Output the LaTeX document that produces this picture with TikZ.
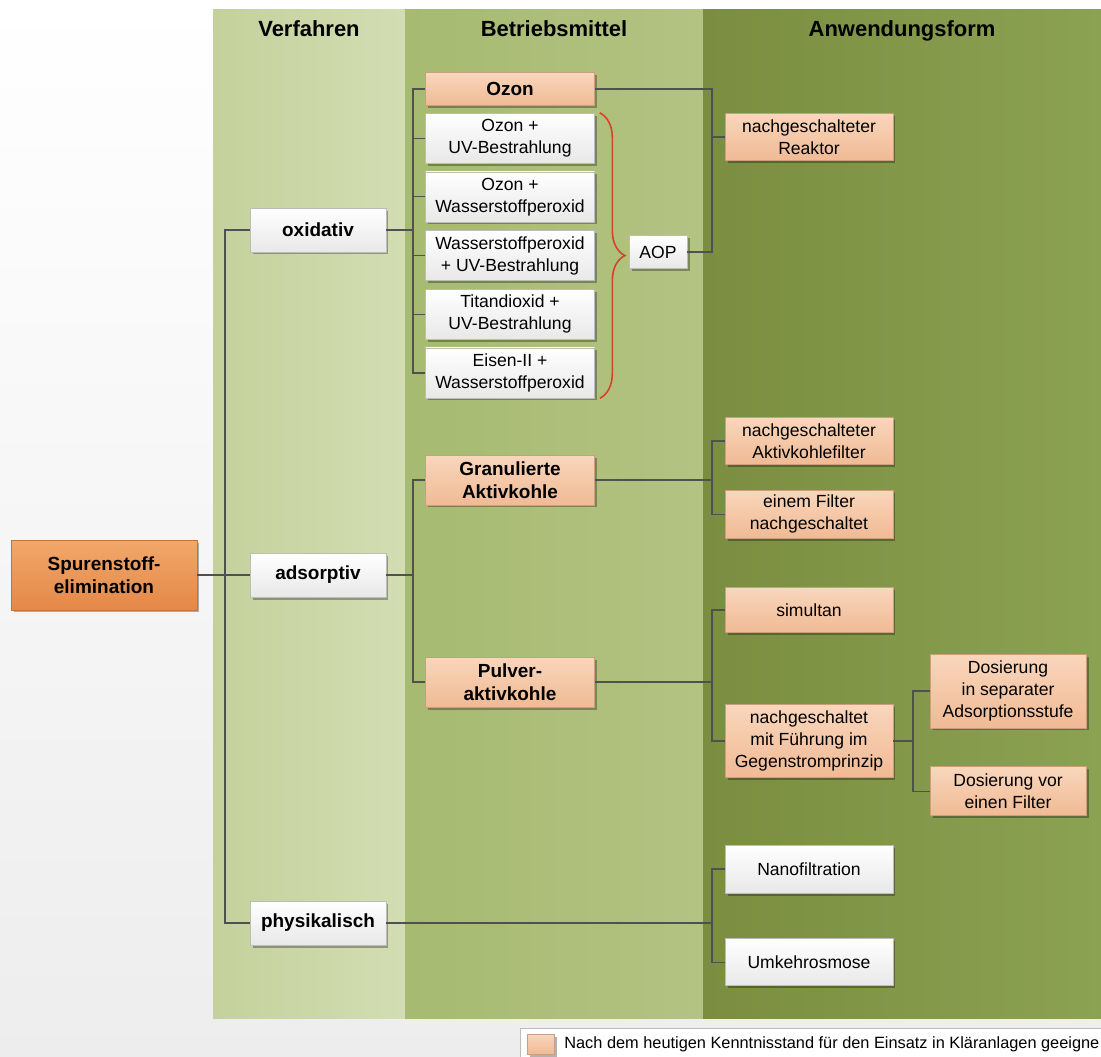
\documentclass[tikz,border=0pt]{standalone}
\usepackage{fontspec}
\setmainfont{Liberation Sans}
\usetikzlibrary{positioning, shadows, decorations.pathreplacing}
\definecolor{lineGray}{RGB}{80, 80, 80}
\definecolor{boxBorder}{RGB}{188, 188, 188}
\definecolor{colOneL}{RGB}{196, 209, 156}
\definecolor{colOneR}{RGB}{211, 221, 179}
\definecolor{colTwoL}{RGB}{166, 186, 112}
\definecolor{colTwoR}{RGB}{179, 195, 131}
\definecolor{colThreeL}{RGB}{122, 141, 64}
\definecolor{colThreeR}{RGB}{140, 162, 83}
\definecolor{peachTop}{RGB}{249, 214, 188}
\definecolor{peachBot}{RGB}{240, 186, 148}
\definecolor{orangeTop}{RGB}{241, 168, 106}
\definecolor{orangeBot}{RGB}{228, 136, 72}
\definecolor{braceRed}{RGB}{214, 66, 40}

\begin{document}
\begin{tikzpicture}[
    x=0.02cm, y=-0.02cm,
    box/.style={rectangle, draw=boxBorder, line width=0.4pt, align=center, inner sep=1pt, font=\fontsize{10}{12.5}\selectfont, drop shadow={shadow xshift=0.05cm, shadow yshift=-0.05cm, opacity=0.3, fill=black}},
    wbox/.style={box, top color=white, bottom color=black!9},
    obox/.style={box, top color=peachTop, bottom color=peachBot, draw=peachBot!85!black},
    bold/.style={font=\fontsize{10.8}{13}\selectfont\bfseries},
    mainbox/.style={box, bold, top color=orangeTop, bottom color=orangeBot, draw=orangeBot!85!black, minimum width=3.72cm, minimum height=1.4cm},
    verfbox/.style={wbox, bold, minimum width=2.72cm, minimum height=0.88cm},
    mittel/.style={minimum width=3.38cm, minimum height=1cm},
    anwend/.style={minimum width=3.36cm},
    dosbox/.style={obox, minimum width=3.12cm},
    colhead/.style={anchor=base, font=\fontsize{12.5}{15}\selectfont\bfseries},
    conn/.style={draw=lineGray, line width=0.7pt},
    aopbrace/.style={draw=braceRed, line width=0.9pt, decorate, decoration={brace, amplitude=0.5cm}}
]

\useasboundingbox (0,0) rectangle (1101,1057);
\clip (0,0) rectangle (1101,1057);

% background and columns
\fill[top color=white, bottom color=black!7] (0,0) rectangle (1101,1057);
\fill[left color=colOneL, right color=colOneR] (213,10) rectangle (405,1018);
\fill[left color=colTwoL, right color=colTwoR] (405,10) rectangle (703,1018);
\fill[left color=colThreeL, right color=colThreeR] (703,10) rectangle (1101,1018);

\node[colhead] (hverf) at (309,37) {Verfahren};
\node[colhead] (hmittel) at (554,37) {Betriebsmittel};
\node[colhead] (hanw) at (902,37) {Anwendungsform};

% Verfahren
\node[mainbox] (spur) at (104,575) {Spurenstoff-\\elimination};
\node[verfbox] (oxi) at (318,230) {oxidativ};
\node[verfbox] (ads) at (318,575) {adsorptiv};
\node[verfbox] (phys) at (318,923) {physikalisch};

% Betriebsmittel
\node[obox, bold, mittel, minimum height=0.66cm] (ozon) at (510,89) {Ozon};
\node[wbox, mittel, below=0.14cm of ozon] (ozonuv) {Ozon +\\UV-Bestrahlung};
\node[wbox, mittel, below=0.16cm of ozonuv] (ozonhp) {Ozon +\\Wasserstoffperoxid};
\node[wbox, mittel, below=0.16cm of ozonhp] (hpuv) {Wasserstoffperoxid\\+ UV-Bestrahlung};
\node[wbox, mittel, below=0.16cm of hpuv] (tio) {Titandioxid +\\UV-Bestrahlung};
\node[wbox, mittel, below=0.16cm of tio] (eisen) {Eisen-II +\\Wasserstoffperoxid};
\node[wbox, minimum width=1.16cm, minimum height=0.66cm] (aop) at (658,252) {AOP};
\node[obox, bold, mittel] (gak) at (510,480) {Granulierte\\Aktivkohle};
\node[obox, bold, mittel] (pak) at (510,682) {Pulver-\\aktivkohle};

% Anwendungsform
\node[obox, anwend, minimum height=0.94cm] (reaktor) at (809,137) {nachgeschalteter\\Reaktor};
\node[obox, anwend, minimum height=0.94cm] (akf) at (809,441) {nachgeschalteter\\Aktivkohlefilter};
\node[obox, anwend, minimum height=0.96cm, below=0.5cm of akf] (einem) {einem Filter\\nachgeschaltet};
\node[obox, anwend, minimum height=0.9cm] (simul) at (809,610) {simultan};
\node[obox, anwend, minimum height=1.46cm] (nachg) at (809,741) {nachgeschaltet\\mit Führung im\\Gegenstromprinzip};
\node[dosbox, minimum height=1.48cm] (dossep) at (1008,691) {Dosierung\\in separater\\Adsorptionsstufe};
\node[dosbox, minimum height=0.98cm, below=0.76cm of dossep] (dosvor) {Dosierung vor\\einen Filter};
\node[wbox, anwend, minimum height=0.96cm] (nano) at (809,869) {Nanofiltration};
\node[wbox, anwend, minimum height=0.94cm, below=0.9cm of nano] (umkehr) {Umkehrosmose};

% connectors
\coordinate (vx) at (225,0);
\coordinate (bx) at (413,0);
\coordinate (ax) at (712,0);
\coordinate (dx) at (913,0);

\draw[conn] (spur) -- (ads);
\draw[conn] (oxi.west) -- (oxi.west -| vx) |- (phys.west);
\draw[conn] (oxi.east) -- (oxi.east -| bx);
\draw[conn] (ozon.west) -- (ozon.west -| bx) |- (eisen.west);
\foreach \n in {ozonuv, ozonhp, hpuv, tio}
  \draw[conn] (\n.west) -- (\n.west -| bx);
\draw[aopbrace] ([xshift=0.1cm]ozonuv.north east) -- ([xshift=0.1cm]eisen.south east);
\draw[conn] (ozon.east) -- (ozon.east -| ax) |- (aop.east);
\draw[conn] (reaktor.west) -- (reaktor.west -| ax);

\draw[conn] (ads.east) -- (ads.east -| bx);
\draw[conn] (gak.west) -- (gak.west -| bx) |- (pak.west);
\draw[conn] (gak.east) -- (gak.east -| ax);
\draw[conn] (akf.west) -- (akf.west -| ax) |- (einem.west);
\draw[conn] (pak.east) -- (pak.east -| ax);
\draw[conn] (simul.west) -- (simul.west -| ax) |- (nachg.west);
\draw[conn] (nachg.east) -- (nachg.east -| dx);
\draw[conn] (dossep.west) -- (dossep.west -| dx) |- (dosvor.west);

\draw[conn] (phys.east) -- (phys.east -| ax);
\draw[conn] (nano.west) -- (nano.west -| ax) |- (umkehr.west);

% legend
\node[draw=boxBorder, fill=white, anchor=north west, minimum width=12cm, minimum height=0.7cm] (legend) at (520,1028) {};
\node[obox, drop shadow={opacity=0}, minimum width=0.54cm, minimum height=0.4cm] (legsw) at (541,1044) {};
\node[anchor=west, font=\fontsize{9.3}{11}\selectfont, inner sep=0pt] (legtext) at (564,1044) {Nach dem heutigen Kenntnisstand für den Einsatz in Kläranlagen geeigne};

\end{tikzpicture}
\end{document}
